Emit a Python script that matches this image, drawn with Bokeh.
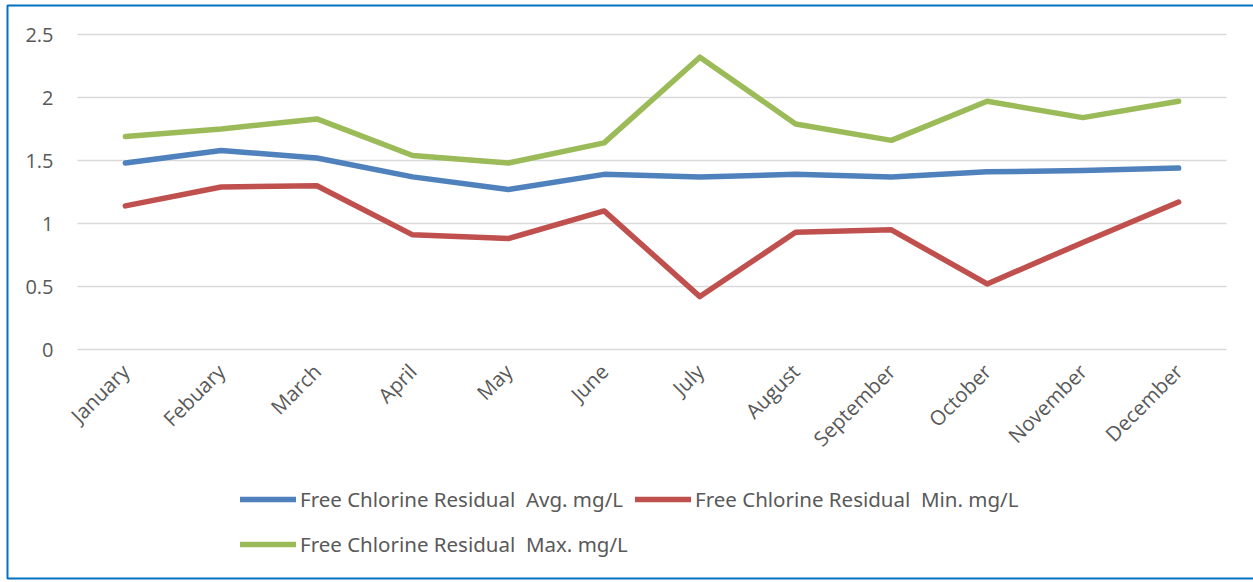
import math
from bokeh.plotting import figure
from bokeh.models import Range1d, Legend, LegendItem, FixedTicker, BoxAnnotation
from bokeh.embed import file_html
from bokeh.resources import INLINE

months = ["January", "Febuary", "March", "April", "May", "June", "July",
          "August", "September", "October", "November", "December"]
avg_vals = [1.48, 1.58, 1.52, 1.37, 1.27, 1.39, 1.37, 1.39, 1.37, 1.41, 1.42, 1.44]
min_vals = [1.14, 1.29, 1.30, 0.91, 0.88, 1.10, 0.42, 0.93, 0.95, 0.52, 0.85, 1.17]
max_vals = [1.69, 1.75, 1.83, 1.54, 1.48, 1.64, 2.32, 1.79, 1.66, 1.97, 1.84, 1.97]
y_ticks = [0, 0.5, 1, 1.5, 2, 2.5]
series_names = ["Free Chlorine Residual  Avg. mg/L",
                "Free Chlorine Residual  Min. mg/L",
                "Free Chlorine Residual  Max. mg/L"]
colors = ["#4F81BD", "#C0504D", "#9BBB59"]

W, H = 1253, 582
# plot-area geometry (pixels) of the category band and value axis
grid_left, grid_right = 77, 1226
y0_px, ytop_px = 349, 34
n = len(months)
xs = list(range(n))
px_per_cat = (grid_right - grid_left) / n
px_per_unit = (y0_px - ytop_px) / y_ticks[-1]
x_start = -0.5 - grid_left / px_per_cat
x_end = n - 0.5 + (W - grid_right) / px_per_cat
y_start = -(H - y0_px) / px_per_unit
y_end = y_ticks[-1] + ytop_px / px_per_unit

p = figure(width=W, height=H, x_range=Range1d(x_start, x_end), y_range=Range1d(y_start, y_end),
           output_backend="svg", toolbar_location=None,
           min_border_left=0, min_border_right=0, min_border_top=0, min_border_bottom=0)
p.outline_line_color = None
p.background_fill_color = "white"
p.border_fill_color = "white"

# horizontal gridlines limited to the category band
ygrid = p.ygrid[0]
if "cross_bounds" in ygrid.properties():
    ygrid.grid_line_color = "#D9D9D9"
    ygrid.grid_line_width = 1.5
    ygrid.cross_bounds = (-0.5, n - 0.5)
else:
    ygrid.grid_line_color = None
    p.segment(x0=[-0.5] * len(y_ticks), x1=[n - 0.5] * len(y_ticks), y0=y_ticks, y1=y_ticks,
              line_color="#D9D9D9", line_width=1.5)
p.xgrid.grid_line_color = None

renderers = []
for vals, c in zip([avg_vals, min_vals, max_vals], colors):
    r = p.line(xs, vals, line_color=c, line_width=5.5, line_cap="round", line_join="round")
    renderers.append(r)

# x axis fixed at value 0
p.xaxis.fixed_location = 0
p.xaxis.ticker = FixedTicker(ticks=xs)
p.xaxis.major_label_overrides = {i: m for i, m in zip(xs, months)}
p.xaxis.axis_line_color = None
p.xaxis.major_tick_line_color = None
p.xaxis.minor_tick_line_color = None
p.xaxis.major_label_orientation = math.pi / 4
p.xaxis.major_label_text_font = "Open Sans"
p.xaxis.major_label_text_font_size = "20.5px"
p.xaxis.major_label_text_color = "#595959"
p.xaxis.major_label_standoff = 12

# y axis fixed at left edge of the category band
p.yaxis.fixed_location = -0.5
p.yaxis.ticker = FixedTicker(ticks=y_ticks)
p.yaxis.axis_line_color = None
p.yaxis.major_tick_line_color = None
p.yaxis.minor_tick_line_color = None
p.yaxis.major_label_text_font = "Open Sans"
p.yaxis.major_label_text_font_size = "20px"
p.yaxis.major_label_text_color = "#595959"
p.yaxis.major_label_standoff = 18

def make_legend(items, loc):
    return Legend(items=items, location=loc, orientation="horizontal",
                  padding=0, margin=0, spacing=12, border_line_color=None,
                  background_fill_alpha=0, glyph_width=56, glyph_height=20,
                  label_standoff=4, label_text_font="Noto Sans",
                  label_text_font_size="20.5px", label_text_color="#595959",
                  label_height=20)

lg1 = make_legend([LegendItem(label=series_names[0], renderers=[renderers[0]]),
                   LegendItem(label=series_names[1], renderers=[renderers[1]])], (240, 69))
lg2 = make_legend([LegendItem(label=series_names[2], renderers=[renderers[2]])], (240, 24))
p.add_layout(lg1, "center")
p.add_layout(lg2, "center")

border = BoxAnnotation(left=7, right=1262, top=5, bottom=578,
                       left_units="canvas", right_units="canvas",
                       top_units="canvas", bottom_units="canvas",
                       fill_alpha=0, line_color="#0070C0", line_alpha=1.0, line_width=2)
p.add_layout(border)

open("out.html", "w").write(file_html(p, INLINE))
